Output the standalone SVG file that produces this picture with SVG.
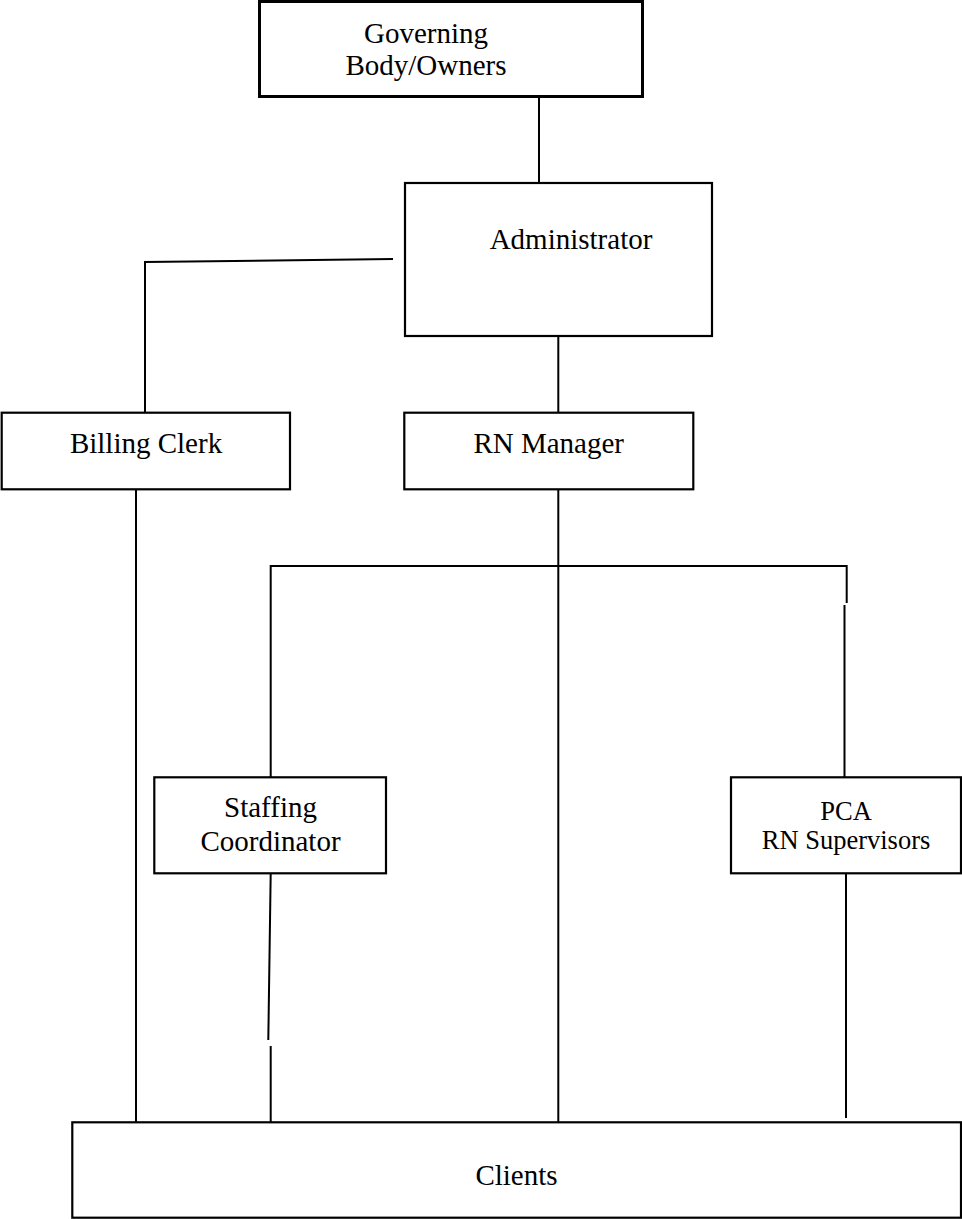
<svg xmlns="http://www.w3.org/2000/svg" width="962" height="1219" viewBox="0 0 962 1219">
<style>
.box{fill:#fff;stroke:#000;stroke-width:2.2}
.t{font-family:"Liberation Serif","Times New Roman",serif;font-size:29px;fill:#000;text-anchor:middle}
.s{font-size:26.5px}
.c{fill:none;stroke:#000;stroke-width:2}
</style>
<rect width="962" height="1219" fill="#fff"/>
<g id="connectors">
<line class="c" x1="539" y1="97" x2="539" y2="183"/>
<polyline class="c" points="393,259 145,262 145,413"/>
<line class="c" x1="558.3" y1="336" x2="558.3" y2="413"/>
<line class="c" x1="558.3" y1="489" x2="558.3" y2="1122"/>
<polyline class="c" points="270.7,777 270.7,566 846.7,566 846.7,603"/>
<line class="c" x1="844.5" y1="605" x2="844.5" y2="777"/>
<line class="c" x1="136" y1="489" x2="136" y2="1122"/>
<line class="c" x1="270.7" y1="873" x2="268.3" y2="1040"/>
<line class="c" x1="270.7" y1="1046" x2="270.7" y2="1122"/>
<line class="c" x1="846" y1="869" x2="846" y2="1118"/>
</g>
<g id="governing">
<rect class="box" x="259.5" y="1.5" width="383" height="95" style="stroke-width:3"/>
<text class="t" x="426" y="43">Governing</text>
<text class="t" x="426" y="75">Body/Owners</text>
</g>
<g id="administrator">
<rect class="box" x="405" y="183" width="307" height="153"/>
<text class="t" x="571" y="249">Administrator</text>
</g>
<g id="billing">
<rect class="box" x="1.7" y="412.7" width="288.3" height="76.6"/>
<text class="t" x="146" y="453">Billing Clerk</text>
</g>
<g id="rnmanager">
<rect class="box" x="404.3" y="412.7" width="289" height="76.6"/>
<text class="t" x="548.7" y="453">RN Manager</text>
</g>
<g id="staffing">
<rect class="box" x="154.3" y="777.3" width="231.7" height="96"/>
<text class="t" x="270.5" y="817">Staffing</text>
<text class="t" x="270.5" y="851">Coordinator</text>
</g>
<g id="pca">
<rect class="box" x="731" y="777.3" width="230" height="96"/>
<text class="t s" x="846" y="820">PCA</text>
<text class="t s" x="846" y="849">RN Supervisors</text>
</g>
<g id="clients">
<rect class="box" x="72.3" y="1122.3" width="888.7" height="95.4"/>
<text class="t" x="516.5" y="1185">Clients</text>
</g>
</svg>
